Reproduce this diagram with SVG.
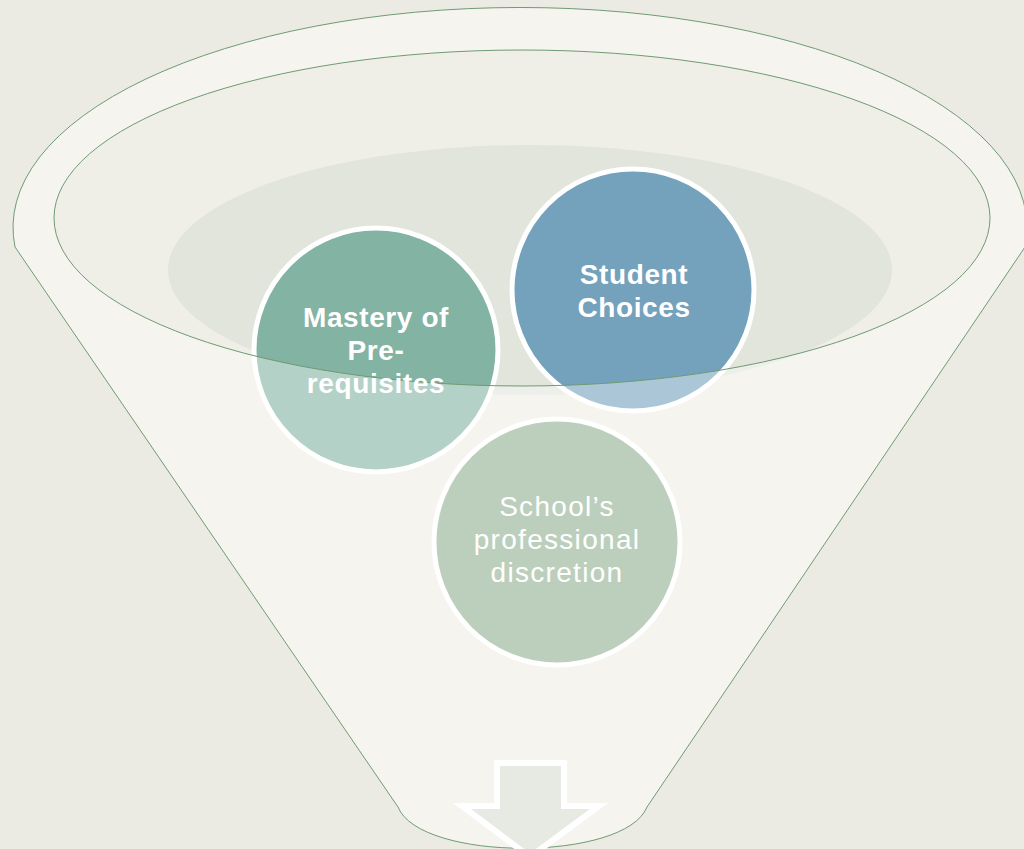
<svg xmlns="http://www.w3.org/2000/svg" width="1024" height="849" viewBox="0 0 1024 849">
<style>
.edge{fill:none;stroke:#6f9b73;stroke-width:1}
.ring{stroke:#ffffff;stroke-width:5}
.lbl{font-family:"Liberation Sans",Arial,sans-serif;font-size:28px;fill:#ffffff;text-anchor:middle;letter-spacing:1.3px}
.b{font-weight:700;letter-spacing:0.6px}
</style>
<defs>
<path id="funnelBody" d="M15,247 A507,220 0 1 1 1025,247 L647,807 C625,862 420,862 398,807 Z"/>
</defs>
<rect x="0" y="0" width="1024" height="849" fill="#ecebe3"/>
<g id="funnel">
<use href="#funnelBody" fill="#eeede5"/>
<ellipse cx="522" cy="218" rx="468" ry="168" fill="#efeee7"/>
<ellipse cx="530" cy="270" rx="362" ry="125" fill="#e1e5dc"/>
</g>
<g id="node-mastery">
<circle cx="376" cy="350" r="122" fill="#82b3a3" class="ring"/>
</g>
<g id="node-student">
<circle cx="633" cy="290" r="121" fill="#74a2bc" class="ring"/>
</g>
<g id="node-school">
<circle cx="557" cy="542" r="123" fill="#8faf91" class="ring"/>
</g>
<g id="overlay">
<path d="M15,247 A507,220 0 1 1 1025,247 L647,807 C625,862 420,862 398,807 Z M54,218 A468,168 0 1 0 990,218 A468,168 0 1 0 54,218 Z" fill="#ffffff" fill-opacity="0.4" fill-rule="evenodd"/>
<use href="#funnelBody" class="edge"/>
<ellipse cx="522" cy="218" rx="468" ry="168" class="edge"/>
</g>
<g id="labels">
<text class="lbl b" x="376" y="327">Mastery of</text>
<text class="lbl b" x="376" y="360">Pre-</text>
<text class="lbl b" x="376" y="393">requisites</text>
<text class="lbl b" x="634" y="284">Student</text>
<text class="lbl b" x="634" y="317">Choices</text>
<text class="lbl" x="557" y="516">School’s</text>
<text class="lbl" x="557" y="549">professional</text>
<text class="lbl" x="557" y="582">discretion</text>
</g>
<g id="connectors">
<polygon points="497,763 564,763 564,806 599,806 530,857 462,806 497,806" fill="#e6eae3" stroke="#ffffff" stroke-width="6" stroke-linejoin="miter"/>
</g>
</svg>
